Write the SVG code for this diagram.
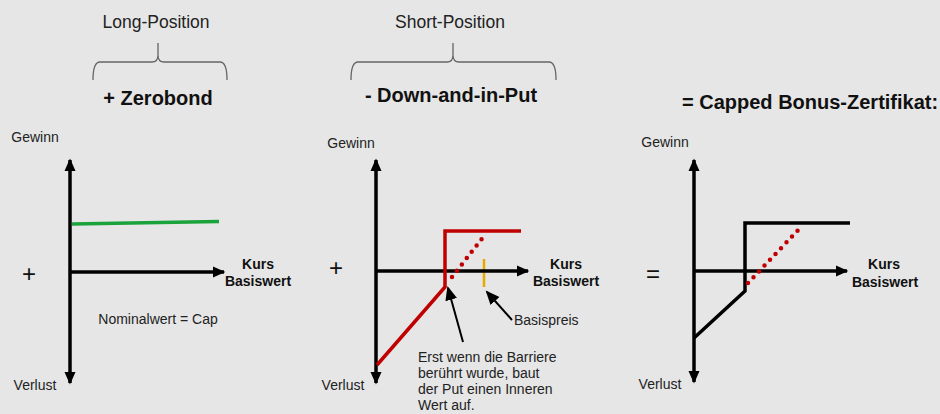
<svg xmlns="http://www.w3.org/2000/svg" width="940" height="414" viewBox="0 0 940 414">
<defs>
<marker id="ah" markerWidth="4" markerHeight="4" refX="3.2" refY="2" orient="auto" markerUnits="strokeWidth">
<path d="M0,0.4 L3.6,2 L0,3.6 Z" fill="#000"/>
</marker>
<marker id="ahs" markerWidth="8" markerHeight="8" refX="6" refY="4" orient="auto" markerUnits="strokeWidth">
<path d="M0,1 L7,4 L0,7 Z" fill="#000"/>
</marker>
<style>
text{font-family:"Liberation Sans",Arial,sans-serif;fill:#222}
.s{font-size:14px}
.h{font-size:17.5px}
.b{font-size:20px;font-weight:bold;fill:#111}
.k{font-size:14px;font-weight:bold;fill:#111}
.op{font-size:24px;fill:#111}
.ax{stroke:#000;stroke-width:3.5;fill:none;marker-end:url(#ah)}
.br{stroke:#666;stroke-width:1.3;fill:none}
.red{stroke:#c00000;stroke-width:3.5;fill:none}
.dot{stroke:#c00000;stroke-width:4.5;stroke-linecap:round;stroke-dasharray:0 8;fill:none}
.blk{stroke:#000;stroke-width:3.5;fill:none}
.ptr{stroke:#000;stroke-width:2;fill:none;marker-end:url(#ahs)}
</style>
</defs>
<rect width="940" height="414" fill="#e6e6e6"/>

<g id="panel-long">
<text class="h" x="156" y="28" text-anchor="middle">Long-Position</text>
<path class="br" d="M93,80 Q93,62 100,62 L152,62 Q158,62 158,55 L158,43 M158,55 Q158,62 164,62 L220,62 Q227,62 227,80"/>
<text class="b" x="158" y="105" text-anchor="middle">+ Zerobond</text>
<text class="s" x="35" y="142" text-anchor="middle">Gewinn</text>
<text class="s" x="35" y="390" text-anchor="middle">Verlust</text>
<text class="op" x="29" y="282" text-anchor="middle">+</text>
<text class="k" x="258" y="269" text-anchor="middle">Kurs</text>
<text class="k" x="258" y="286" text-anchor="middle">Basiswert</text>
<text class="s" x="158" y="324" text-anchor="middle">Nominalwert = Cap</text>
<path d="M72,224 L219,221.5" stroke="#1aa33a" stroke-width="3.5" fill="none"/>
</g>

<g id="panel-short">
<text class="h" x="450" y="28" text-anchor="middle">Short-Position</text>
<path class="br" d="M351,80 Q351,62 358,62 L447,62 Q453,62 453,55 L453,43 M453,55 Q453,62 459,62 L549,62 Q556,62 556,80"/>
<text class="b" x="451" y="102" text-anchor="middle">- Down-and-in-Put</text>
<text class="s" x="351" y="148" text-anchor="middle">Gewinn</text>
<text class="s" x="343" y="390" text-anchor="middle">Verlust</text>
<text class="op" x="336" y="276" text-anchor="middle">+</text>
<text class="k" x="566" y="269" text-anchor="middle">Kurs</text>
<text class="k" x="566" y="286" text-anchor="middle">Basiswert</text>
<path d="M484,259 L484,287" stroke="#e8a800" stroke-width="2.5" fill="none"/>
<text class="s" x="514" y="325">Basispreis</text>
<text class="s" x="418" y="362">Erst wenn die Barriere</text>
<text class="s" x="418" y="378">berührt wurde, baut</text>
<text class="s" x="418" y="394">der Put einen Inneren</text>
<text class="s" x="418" y="410">Wert auf.</text>
</g>

<g id="panel-result">
<text class="b" x="682" y="109">= Capped Bonus-Zertifikat:</text>
<text class="s" x="665" y="147" text-anchor="middle">Gewinn</text>
<text class="s" x="660" y="389" text-anchor="middle">Verlust</text>
<text class="op" x="653" y="282" text-anchor="middle">=</text>
<text class="k" x="884" y="269" text-anchor="middle">Kurs</text>
<text class="k" x="885" y="287" text-anchor="middle">Basiswert</text>
</g>

<g id="connectors">
<path class="ax" d="M70,272 L70,160"/>
<path class="ax" d="M70,272 L70,383"/>
<path class="ax" d="M70,272 L224,272"/>

<path class="ax" d="M376,271 L376,160"/>
<path class="ax" d="M376,271 L376,383"/>
<path class="ax" d="M376,271 L528,271"/>
<path class="red" d="M377,365 L445,287 L445,231 L521,231"/>
<path class="dot" d="M452,277 L484,236"/>
<path class="ptr" d="M463,342 L448,288"/>
<path class="ptr" d="M512,320 L487,292"/>

<path class="ax" d="M694,271 L694,160"/>
<path class="ax" d="M694,271 L694,382"/>
<path class="ax" d="M694,271 L847,271"/>
<path class="blk" d="M694,338 L745,291 L745,223 L850,223"/>
<path class="dot" d="M748,283 L802,226"/>
</g>
</svg>
